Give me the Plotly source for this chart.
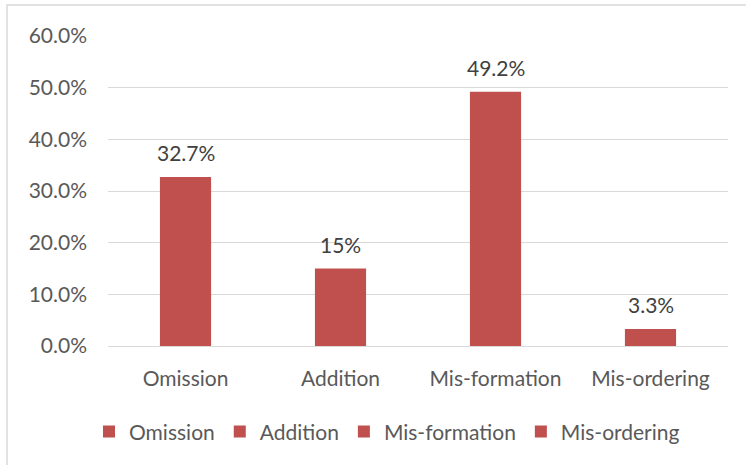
import plotly.graph_objects as go

categories = ["Omission", "Addition", "Mis-formation", "Mis-ordering"]
values = [0.327, 0.15, 0.492, 0.033]
labels = ["32.7%", "15%", "49.2%", "3.3%"]
tick_vals = [0, 0.1, 0.2, 0.3, 0.4, 0.5, 0.6]
tick_text = ["0.0%", "10.0%", "20.0%", "30.0%", "40.0%", "50.0%", "60.0%"]

color = "#C0504D"
font_family = "Lato, Open Sans, sans-serif"
fs = 21

fig = go.Figure()
for c, v in zip(categories, values):
    fig.add_trace(go.Bar(
        x=[c], y=[v], name=c,
        marker=dict(color=color, line=dict(width=0)),
        width=0.33,
    ))

annotations = [
    dict(x=c, y=v, text=t, xref="x", yref="y", showarrow=False,
         yanchor="bottom", yshift=10,
         font=dict(size=fs, color="#404040", family=font_family))
    for c, v, t in zip(categories, values, labels)
]

fig.update_layout(
    width=746, height=465,
    margin=dict(l=108, r=18, t=36, b=119),
    paper_bgcolor="white", plot_bgcolor="white",
    barmode="overlay",
    font=dict(family=font_family, size=fs, color="#595959"),
    xaxis=dict(categoryorder="array", categoryarray=categories,
               showgrid=False, showline=True, linecolor="#D9D9D9", linewidth=1,
               ticks="", ticklabelstandoff=14,
               tickfont=dict(size=fs, color="#595959")),
    yaxis=dict(range=[0, 0.6], tickvals=tick_vals, ticktext=tick_text,
               showgrid=True, gridcolor="#D9D9D9", gridwidth=1,
               zeroline=False, showline=False, ticks="",
               ticklabelstandoff=20,
               tickfont=dict(size=fs, color="#595959")),
    legend=dict(orientation="h", x=0.45, xanchor="center", y=-0.277, yanchor="middle",
                font=dict(size=fs, color="#595959"), itemwidth=30,
                traceorder="normal"),
    annotations=annotations,
    shapes=[dict(type="rect", xref="paper", yref="paper",
                 x0=-0.1629, x1=1.035, y0=-0.4, y1=1.1,
                 line=dict(color="#D9D9D9", width=1.5), fillcolor="rgba(0,0,0,0)",
                 layer="below")],
)

fig.write_html("out.html")
